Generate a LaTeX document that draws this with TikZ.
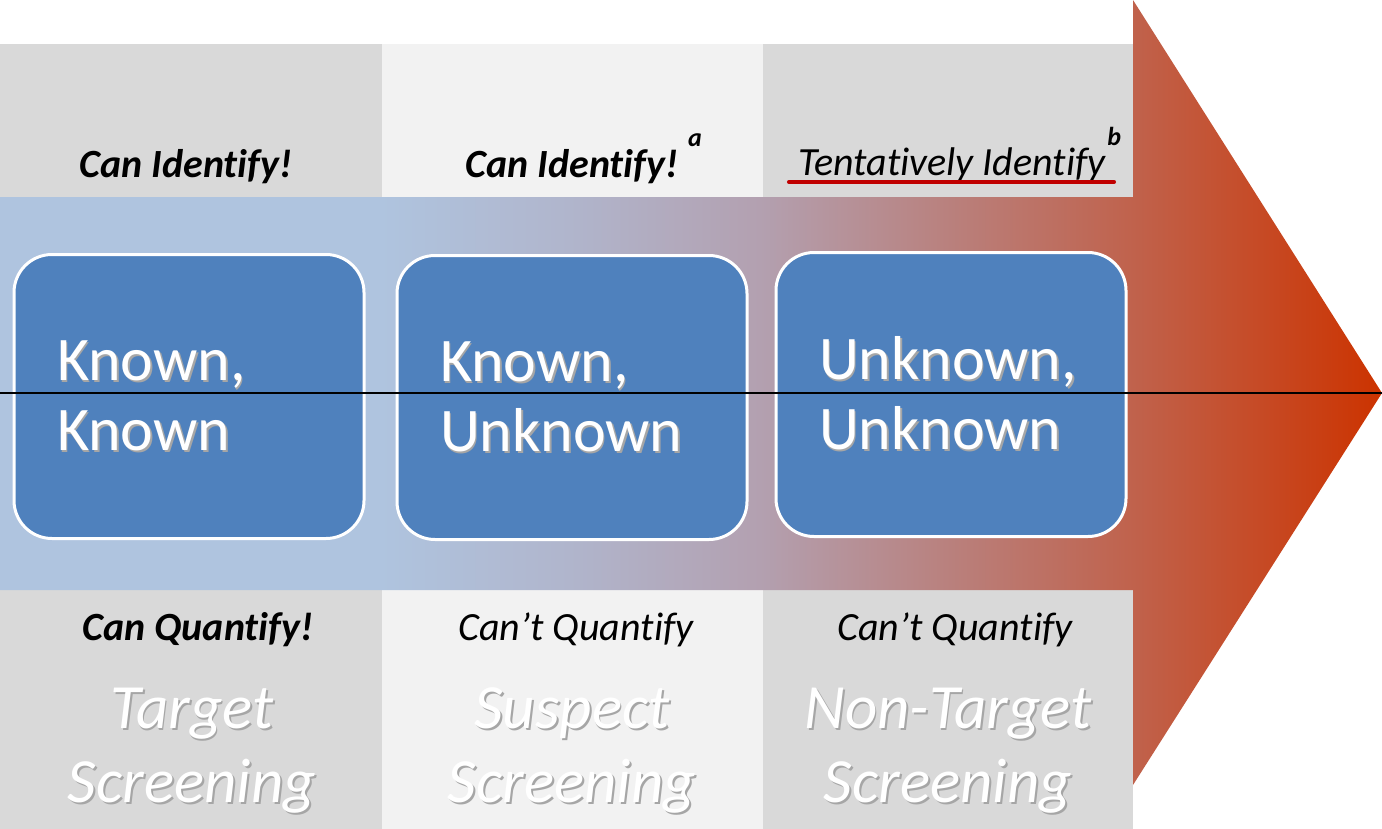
\documentclass[tikz,border=0pt]{standalone}
\usepackage{fontspec}
\setmainfont{Carlito}[Ligatures={CommonOff,ContextualOff},Contextuals=AlternateOff]
\usepackage{tikz}
\usetikzlibrary{positioning}

\definecolor{colgray}{HTML}{D9D9D9}
\definecolor{collight}{HTML}{F2F2F2}
\definecolor{tileblue}{HTML}{4F81BD}
\definecolor{fadeblue}{HTML}{AFC4DF}
\definecolor{fadelilac}{HTML}{B0B5CC}
\definecolor{fademauve}{HTML}{B3A0B0}
\definecolor{faderose}{HTML}{B9817E}
\definecolor{faderust}{HTML}{C0624C}
\definecolor{fadered}{HTML}{CC3300}
\definecolor{markred}{HTML}{C00000}

\pgfdeclarehorizontalshading{bandfade}{100bp}{color(0bp)=(fadeblue); color(38.75bp)=(fadeblue); color(45.6bp)=(fadelilac); color(52.5bp)=(fademauve); color(59.2bp)=(faderose); color(66bp)=(faderust); color(75bp)=(fadered); color(100bp)=(fadered)}

% white text with a soft drop shadow
\newcommand\softtext[1]{\leavevmode\rlap{\kern0.9pt\raisebox{-0.9pt}{\textcolor{black!35}{#1}}}#1}

\begin{document}
\begin{tikzpicture}[
	  x=0.5pt, y=-0.5pt,
	  tile/.style={
	    draw=white,
	    line width=1.5pt,
	    fill=tileblue,
	    rounded corners=19pt,
	    minimum width=174.5pt,
	    minimum height=142pt,
	    text width=132pt,
	    inner xsep=21.5pt,
	    align=left,
	    text=white,
	    font=\fontsize{31}{35}\selectfont
	  },
	  head/.style={anchor=base, inner sep=0pt, font=\fontsize{20}{24}\selectfont\itshape},
	  headbold/.style={head, font=\fontsize{20}{24}\selectfont\bfseries\itshape},
	  supnote/.style={anchor=base west, inner sep=0pt, font=\fontsize{13}{14}\selectfont\bfseries\itshape},
	  screen/.style={align=center, inner sep=0pt, text=white, font=\fontsize{31.5}{37}\selectfont\itshape},
	  underline/.style={markred, line width=2pt, line cap=round},
	  midline/.style={black, line width=1.1pt}
	]
	\useasboundingbox (0,0) rectangle (1382,829);
	
	% columns
	\fill[colgray] (0,44) rectangle (382,829);
	\fill[collight] (382,44) rectangle (763,829);
	\fill[colgray] (763,44) rectangle (1133,829);
	
	% band and arrow head
	\shade[shading=bandfade] (0,197) -- (1133,197) -- (1133,0) -- (1382,393)
	  -- (1133,785) -- (1133,590) -- (0,590) -- cycle;
	
	\node[tile] (kk) at (189,396.5) {\softtext{Known,}\\\softtext{Known}};
	\node[tile] (ku) at (572,397.5) {\softtext{Known,}\\\softtext{Unknown}};
	\node[tile] (uu) at (951,394.5) {\softtext{Unknown,}\\\softtext{Unknown}};
	
	\node[headbold] (idtarget) at (186,177) {Can Identify!};
	\node[headbold] (idsuspect) at (572,177) {Can Identify!};
	\node[supnote] (supa) at ([xshift=4.5pt,yshift=15pt]idsuspect.base east) {a};
	\node[head] (idtent) at (952,176) {Tentatively Identify};
	\node[supnote] (supb) at ([xshift=0.5pt,yshift=15pt]idtent.base east) {b};
	\draw[underline] ([xshift=-4.5pt,yshift=-3pt]idtent.base west) -- ([xshift=4pt,yshift=-3pt]idtent.base east);
	
	\node[headbold] (qtarget) at (198,640) {Can Quantify!};
	\node[head] (qsuspect) at (576,640) {Can’t Quantify};
	\node[head] (qnontarget) at (955,640) {Can’t Quantify};
	
	\node[screen] (target) at (192,751.5) {\softtext{Target}\\\softtext{Screening}};
	\node[screen] (suspect) at (572,751.5) {\softtext{Suspect}\\\softtext{Screening}};
	\node[screen] (nontarget) at (948,751.5) {\softtext{Non-Target}\\\softtext{Screening}};
	
	\coordinate (lineL) at (0,393);
	\coordinate (lineR) at (1382,393);
	\draw[midline] (lineL) -- (lineR);
	
	\end{tikzpicture}
\end{document}
